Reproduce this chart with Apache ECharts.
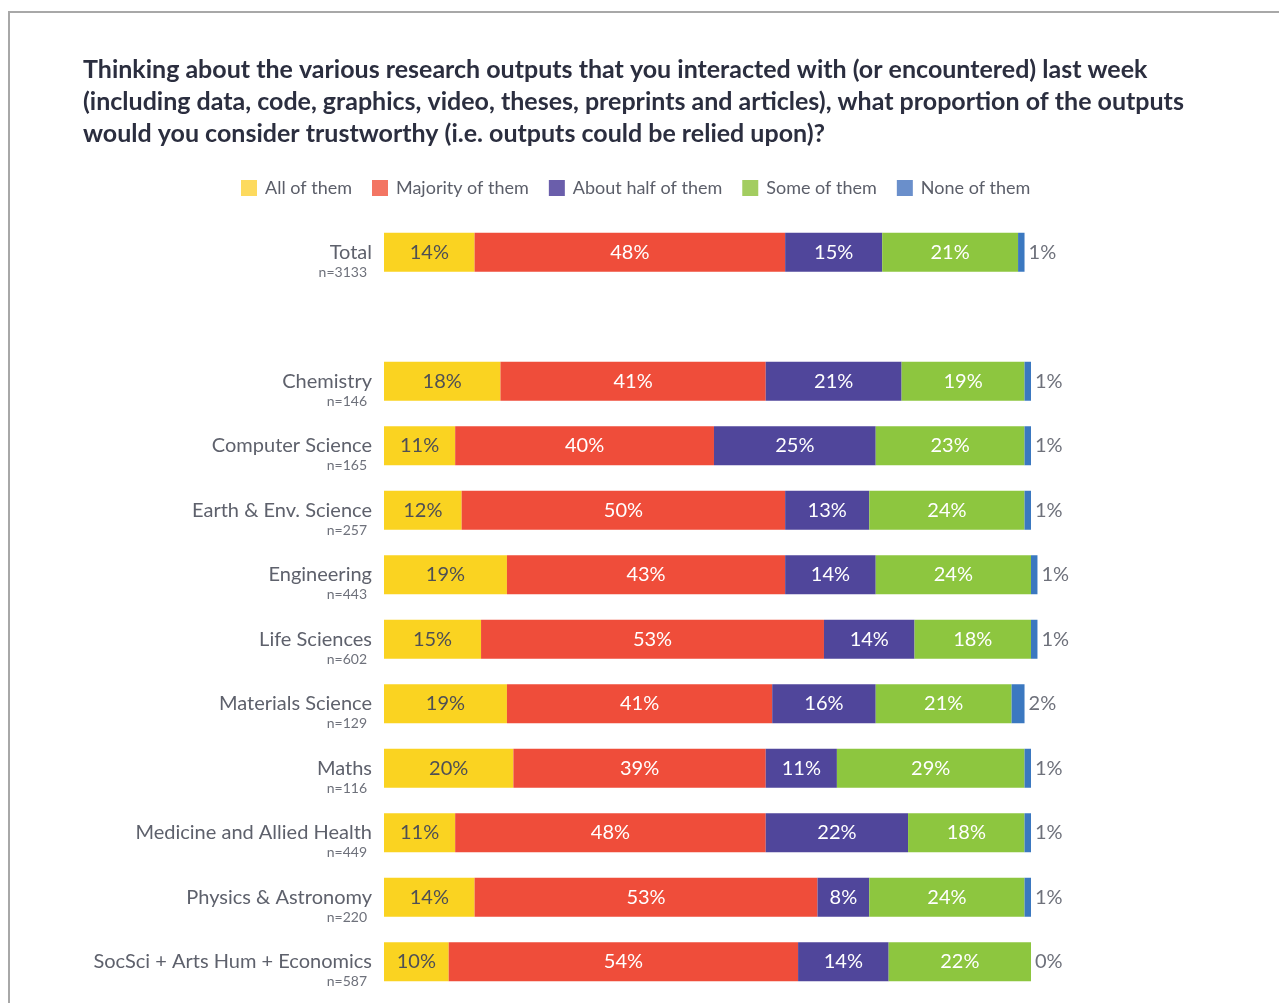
<!DOCTYPE html>
<html>
<head>
<meta charset="utf-8">
<script src="https://cdn.jsdelivr.net/npm/echarts@6/dist/echarts.min.js"></script>
<style>
  html, body { margin: 0; padding: 0; background: #fff; }
  #chart { width: 1279px; height: 1007px; }
</style>
</head>
<body>
<div id="chart"></div>
<script>
// Survey groups (top to bottom) and their respondent counts
const groups = ['Total', 'Chemistry', 'Computer Science', 'Earth & Env. Science', 'Engineering',
  'Life Sciences', 'Materials Science', 'Maths', 'Medicine and Allied Health',
  'Physics & Astronomy', 'SocSci + Arts Hum + Economics'];
const sampleSizes = [3133, 146, 165, 257, 443, 602, 129, 116, 449, 220, 587];

// Answer options
const answerNames = ['All of them', 'Majority of them', 'About half of them', 'Some of them', 'None of them'];

// Share of respondents (%) per answer, in group order
const allOfThem      = [14, 18, 11, 12, 19, 15, 19, 20, 11, 14, 10];
const majorityOfThem = [48, 41, 40, 50, 43, 53, 41, 39, 48, 53, 54];
const aboutHalf      = [15, 21, 25, 13, 14, 14, 16, 11, 22, 8, 14];
const someOfThem     = [21, 19, 23, 24, 24, 18, 21, 29, 18, 24, 22];
const noneOfThem     = [1, 1, 1, 1, 1, 1, 2, 1, 1, 1, 0];

const barColors    = ['#FAD321', '#EF4D3A', '#50469B', '#8DC63F', '#3B78C0'];
const legendColors = ['#FDDA5E', '#F37563', '#6A5EAB', '#A3CD60', '#6A8FCB'];

// Blank slot after "Total" separates it from the subject rows
const GAP = '__gap__';
const categories = [groups[0], GAP].concat(groups.slice(1));
const nByCat = {};
groups.forEach((g, i) => { nByCat[g] = sampleSizes[i]; });
const withGap = arr => [arr[0], '-'].concat(arr.slice(1));

const FONT = 'Lato';
const seriesValues = [allOfThem, majorityOfThem, aboutHalf, someOfThem, noneOfThem];

const series = seriesValues.map((vals, i) => {
  const last = i === seriesValues.length - 1;
  return {
    name: answerNames[i],
    type: 'bar',
    stack: 'share',
    barWidth: 39,
    clip: false,
    itemStyle: { color: barColors[i] },
    label: {
      show: true,
      position: last ? 'right' : 'inside',
      distance: 4,
      formatter: p => p.value + '%',
      fontFamily: FONT,
      fontSize: 20,
      color: last ? '#6E717B' : (i === 0 ? '#4E4F55' : '#FFFFFF')
    },
    data: withGap(vals)
  };
});

const chart = echarts.init(document.getElementById('chart'));
chart.setOption({
  animation: false,
  backgroundColor: '#FFFFFF',
  title: {
    text: 'Thinking about the various research outputs that you interacted with (or encountered) last week\n' +
          '(including data, code, graphics, video, theses, preprints and articles), what proportion of the outputs\n' +
          'would you consider trustworthy (i.e. outputs could be relied upon)?',
    left: 83,
    top: 54,
    padding: 0,
    textStyle: { fontFamily: FONT, fontWeight: 'bold', fontSize: 25, lineHeight: 32, color: '#2B2E3F' }
  },
  legend: {
    top: 179,
    left: 241,
    padding: 0,
    itemWidth: 16,
    itemHeight: 16,
    itemGap: 20,
    icon: 'rect',
    textStyle: { fontFamily: FONT, fontSize: 18, color: '#5B5E69', padding: [0, 0, 0, 3] },
    data: answerNames.map((n, i) => ({ name: n, itemStyle: { color: legendColors[i] } }))
  },
  graphic: [
    { type: 'line', shape: { x1: 8, y1: 12, x2: 1279, y2: 12 }, style: { stroke: '#A8A8A8', lineWidth: 2 } },
    { type: 'line', shape: { x1: 9, y1: 12, x2: 9, y2: 1003 }, style: { stroke: '#A8A8A8', lineWidth: 2 } }
  ],
  grid: { left: 384, right: 248, top: 220, height: 774, containLabel: false },
  xAxis: {
    type: 'value',
    min: 0,
    max: 100,
    show: false
  },
  yAxis: {
    type: 'category',
    inverse: true,
    data: categories,
    axisLine: { show: false },
    axisTick: { show: false },
    axisLabel: {
      margin: 12,
      padding: [18, 0, 0, 0],
      formatter: v => v === GAP ? '' : '{name|' + v + '}\n{n|n=' + nByCat[v] + '}',
      rich: {
        name: { fontFamily: FONT, fontSize: 20, lineHeight: 22, color: '#5E616C', align: 'right' },
        n: { fontFamily: FONT, fontSize: 14, lineHeight: 18, color: '#6E717B', align: 'right', padding: [0, 5, 0, 0] }
      }
    }
  },
  series: series
});
</script>
</body>
</html>
